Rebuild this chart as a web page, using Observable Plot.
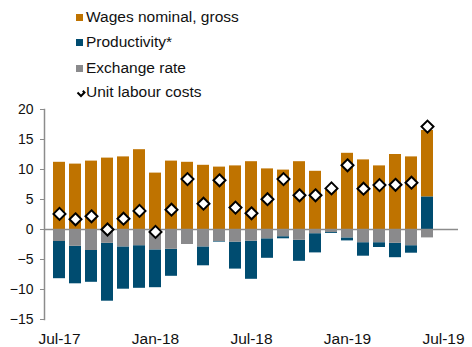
<!DOCTYPE html>
<html>
<head>
<meta charset="utf-8">
<script src="https://cdn.jsdelivr.net/npm/d3@7"></script>
<script src="https://cdn.jsdelivr.net/npm/@observablehq/plot@0.6"></script>
<style>
  body { margin: 0; background: #fff; font-family: Arial, "Liberation Sans", sans-serif; }
  #legend { position: relative; width: 472px; height: 100px; }
  .item { position: absolute; left: 76px; font-size: 15.5px; color: #111; line-height: 16px; white-space: nowrap; }
  .sw { display: inline-block; width: 7px; height: 7px; margin-right: 3px; vertical-align: 1px; }
  .sym { display: inline-block; width: 10px; height: 10px; margin-right: 0px; vertical-align: -1px; }
</style>
</head>
<body>
<div id="legend"></div>
<div id="chart"></div>
<script>
const months = ["Jul-17","Aug-17","Sep-17","Oct-17","Nov-17","Dec-17","Jan-18","Feb-18","Mar-18","Apr-18","May-18","Jun-18",
                "Jul-18","Aug-18","Sep-18","Oct-18","Nov-18","Dec-18","Jan-19","Feb-19","Mar-19","Apr-19","May-19","Jun-19"];
const axisMonths = [...months, "Jul-19"];
const tickLabels = ["Jul-17","Jan-18","Jul-18","Jan-19","Jul-19"];
const yTicks = [-15, -10, -5, 0, 5, 10, 15, 20];

const seriesNames = ["Wages nominal, gross", "Productivity*", "Exchange rate", "Unit labour costs"];
const seriesColors = ["#bf7300", "#004c70", "#8a8a8c"];

const wages = [11.2, 10.9, 11.4, 11.9, 12.1, 13.3, 9.4, 11.4, 11.2, 10.7, 10.4, 10.6,
               11.3, 10.1, 9.9, 11.3, 9.7, 6.5, 12.7, 11.6, 10.6, 12.5, 12.1, 11.1];
const productivity = [-6.2, -6.25, -5.3, -9.65, -7.05, -7.1, -6.3, -4.5, 0, -3.15, -0.1, -4.5,
                      -6.35, -3.25, -0.35, -3.5, -3.2, -0.15, -0.5, -2.25, -0.8, -2.4, -1.25, 5.4];
const exchange = [-2.0, -2.8, -3.5, -2.3, -2.9, -2.7, -3.4, -3.3, -2.5, -2.9, -2.0, -2.1,
                  -1.95, -1.55, -1.2, -1.8, -0.7, -0.5, -1.4, -2.2, -2.2, -2.3, -2.7, -1.4];
const ulc = [2.6, 1.7, 2.2, 0.0, 1.8, 3.1, -0.4, 3.3, 8.4, 4.3, 8.2, 3.65,
             2.7, 5.05, 8.4, 5.7, 5.7, 6.85, 10.7, 6.8, 7.4, 7.45, 7.8, 17.15];

// Legend (HTML, above the SVG)
const legendTops = [9, 34, 60, 84];
const legend = document.getElementById("legend");
seriesNames.forEach((name, i) => {
  const d = document.createElement("div");
  d.className = "item";
  d.style.top = legendTops[i] + "px";
  if (i < 3) {
    d.innerHTML = `<span class="sw" style="background:${seriesColors[i]}"></span>${name}`;
  } else {
    d.innerHTML = `<svg class="sym" viewBox="0 0 10 10"><path d="M1.5,4.5 L5,8 L8.5,4.5 L6.8,2.8" fill="none" stroke="#000" stroke-width="2"/></svg>${name}`;
  }
  legend.appendChild(d);
});

const barData = [];
months.forEach((m, i) => {
  barData.push({month: m, series: seriesNames[0], value: wages[i]});
  barData.push({month: m, series: seriesNames[1], value: productivity[i]});
  barData.push({month: m, series: seriesNames[2], value: exchange[i]});
});
const ulcData = months.map((m, i) => ({month: m, value: ulc[i]}));

const chart = Plot.plot({
  width: 472,
  height: 247,
  marginLeft: 44,
  marginRight: 14,
  marginTop: 9,
  marginBottom: 28,
  style: {fontFamily: "Arial, 'Liberation Sans', sans-serif", background: "#fff"},
  x: {domain: axisMonths, paddingInner: 0.28, paddingOuter: 0.14, label: null},
  y: {domain: [-15, 20], label: null},
  color: {domain: seriesNames.slice(0, 3), range: seriesColors},
  marks: [
    Plot.barY(barData, Plot.stackY({
      x: "month", y: "value", fill: "series",
      order: ["Exchange rate", "Productivity*", "Wages nominal, gross"]
    })),
    Plot.ruleY([0], {stroke: "#8c8c8c", strokeWidth: 1.5}),
    Plot.frame({anchor: "left", stroke: "#8c8c8c", strokeWidth: 1.5}),
    Plot.axisY({ticks: yTicks, tickSize: 4, tickPadding: 7, fontSize: 14, stroke: "#8c8c8c", fill: "#111", label: null}),
    Plot.axisX({ticks: tickLabels, tickSize: 0, tickPadding: 13, fontSize: 15.5, fill: "#111", label: null}),
    Plot.dot(ulcData, {x: "month", y: "value", symbol: "diamond2", r: 5.4, fill: "#fff", stroke: "#000", strokeWidth: 2})
  ]
});
document.getElementById("chart").appendChild(chart);
</script>
</body>
</html>
